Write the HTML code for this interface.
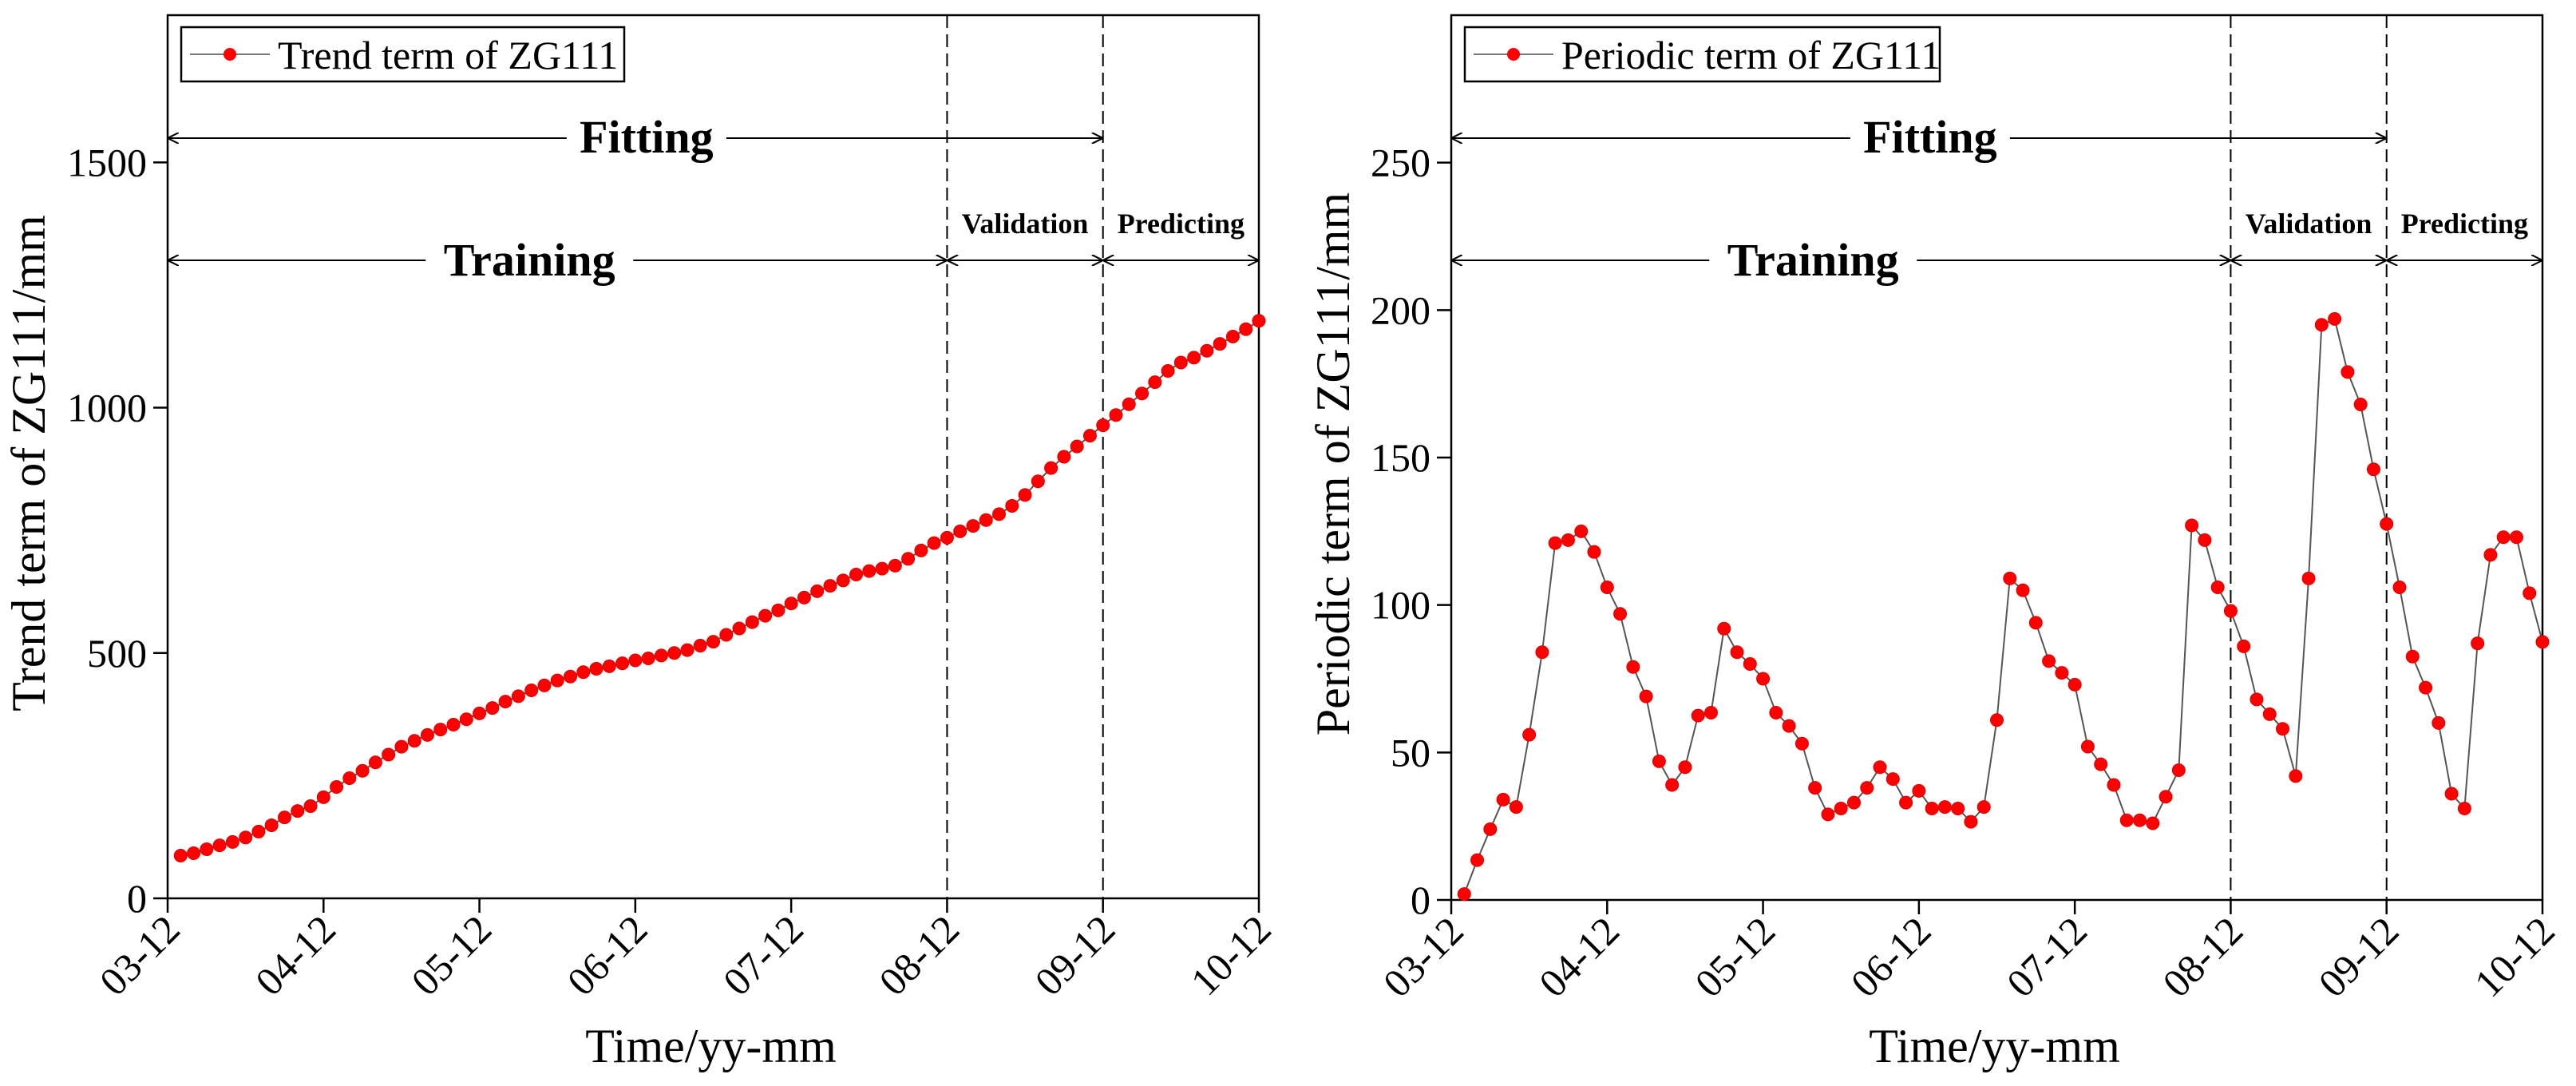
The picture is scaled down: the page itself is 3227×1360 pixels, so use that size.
<!DOCTYPE html>
<html><head><meta charset="utf-8"><style>
html,body{margin:0;padding:0;background:#fff;}
svg{display:block;font-family:"Liberation Serif",serif;}
</style></head><body>
<svg id="chart" width="3227" height="1360" viewBox="0 0 3227 1360" xmlns="http://www.w3.org/2000/svg">
<defs>
<marker id="ah" viewBox="0 0 10 10" refX="10" refY="5" markerWidth="14" markerHeight="14" markerUnits="userSpaceOnUse" orient="auto-start-reverse"><path d="M0,0 L10,5 L0,10" fill="none" stroke="#000" stroke-width="1.5"/></marker>
</defs>
</svg>
<script>
const xTickLabels = ["03-12","04-12","05-12","06-12","07-12","08-12","09-12","10-12"];
const trendValues = [87,92,100,108,115,124,136,149,165,178,188,206,227,245,260,277,293,309,321,333,344,354,365,377,388,401,412,424,434,444,452,461,468,473,479,485,489,495,500,506,515,523,537,550,563,576,587,601,613,626,637,648,660,667,672,678,692,709,724,735,748,759,771,783,800,822,850,877,900,921,943,964,985,1007,1029,1052,1075,1092,1102,1116,1130,1145,1160,1177];
const periodicValues = [2,13.5,24,34,31.5,56,84,121,122,125,118,106,97,79,69,47,39,45,62.5,63.5,92,84,80,75,63.5,59,53,38,29,31,33,38,45,41,33,37,31,31.5,31,26.5,31.5,61,109,105,94,81,77,73,52,46,39,27,27,26,35,44,127,122,106,98,86,68,63,58,42,109,195,197,179,168,146,127.5,106,82.5,72,60,36,31,87,117,123,123,104,87.5];
const trendYTicks = [0,500,1000,1500];
const periodicYTicks = [0,50,100,150,200,250];

const NS="http://www.w3.org/2000/svg";
const svg=document.getElementById('chart');
function mk(tag,attrs,parent){const e=document.createElementNS(NS,tag);for(const k in attrs)e.setAttribute(k,attrs[k]);(parent||svg).appendChild(e);return e;}

function panel(cfg){
  const g=mk('g',{});
  
  
  const L=cfg.x0,R=cfg.x1,T=19,B=cfg.yb;
  const months=84;
  const xs=m=>L+(R-L)*m/months;
  const ys=v=>B-(B-T)*v/cfg.ymax;
  const fr=mk('rect',{x:L,y:T,width:R-L,height:B-T,fill:'none',stroke:'#000','stroke-width':2.5},g);
  
  
  cfg.yticks.forEach(v=>{
    const y=ys(v);
    mk('line',{x1:L-18,x2:L,y1:y,y2:y,stroke:'#000','stroke-width':2.5},g);
    const t=mk('text',{x:L-26,y:y+17,'text-anchor':'end','font-size':50,fill:'#000'},g);
    t.textContent=v;
    
    
  });
  xTickLabels.forEach((lab,i)=>{
    const x=xs(i*12);
    mk('line',{x1:x,x2:x,y1:B,y2:B+18,stroke:'#000','stroke-width':2.5},g);
    const t=mk('text',{x:0,y:0,'text-anchor':'end','font-size':50,fill:'#000',transform:`translate(${x+18},${B+42}) rotate(-45)`},g);
    t.textContent=lab;
    
    
  });
  [60,72].forEach(m=>{
    const l=mk('line',{x1:xs(m),x2:xs(m),y1:T,y2:B,stroke:'#000','stroke-width':2,'stroke-dasharray':'16,8'},g);
    
    
  });
  function arrow(x1,x2,y,gap){
    if(gap){
      mk('line',{x1:x1,x2:gap[0],y1:y,y2:y,stroke:'#000','stroke-width':2,'marker-start':'url(#ah)'},g);
      mk('line',{x1:gap[1],x2:x2,y1:y,y2:y,stroke:'#000','stroke-width':2,'marker-end':'url(#ah)'},g);
    } else mk('line',{x1:x1,x2:x2,y1:y,y2:y,stroke:'#000','stroke-width':2,'marker-start':'url(#ah)','marker-end':'url(#ah)'},g);
  }
  function label(txt,x,y,size,name){
    const t=mk('text',{x:x,y:y,'text-anchor':'middle','font-size':size,'font-weight':'bold',fill:'#000'},g);
    t.textContent=txt;
    
    
  }
  const fx=(L+xs(72))/2+14;
  arrow(L,xs(72),173,[fx-100,fx+100]);
  label('Fitting',fx,191,58,'fitting-label');
  const tx=(L+xs(60))/2-35;
  arrow(L,xs(60),326,[tx-130,tx+130]);
  label('Training',tx,345,58,'training-label');
  arrow(xs(60),xs(72),326);
  label('Validation',(xs(60)+xs(72))/2,292,36,'validation-label');
  arrow(xs(72),R,326);
  label('Predicting',(xs(72)+R)/2,292,36,'predicting-label');
  const vals=cfg.values;
  const pts=vals.map((v,i)=>xs(i+1)+','+ys(v)).join(' ');
  const pl=mk('polyline',{points:pts,fill:'none',stroke:'#555','stroke-width':2},g);
  
  
  vals.forEach((v,i)=>{
    const c=mk('circle',{cx:xs(i+1),cy:ys(v),r:8,fill:'#ff0000',stroke:'#e00000','stroke-width':1},g);
    
    
  });
  const lg=mk('g',{},g);
  
  
  mk('rect',{x:L+17,y:34,width:cfg.legW,height:68,fill:'#fff',stroke:'#000','stroke-width':2.5},lg);
  mk('line',{x1:L+28,x2:L+128,y1:68,y2:68,stroke:'#777','stroke-width':2},lg);
  mk('circle',{cx:L+78,cy:68,r:8,fill:'#ff0000'},lg);
  const lt=mk('text',{x:L+138,y:86,'font-size':50,fill:'#000'},lg);
  lt.textContent=cfg.legend;
  
  
  const yt=mk('text',{x:0,y:0,'text-anchor':'middle','font-size':60,fill:'#000',transform:`translate(${cfg.ytx},${(T+B)/2+8}) rotate(-90)`},g);
  yt.textContent=cfg.ytitle;
  
  
  const xt=mk('text',{x:(L+R)/2-3,y:1330,'text-anchor':'middle','font-size':60,fill:'#000'},g);
  xt.textContent='Time/yy-mm';
  
  
}
panel({name:'trend-panel',x0:210,x1:1577,yb:1125,ymax:1800,yticks:trendYTicks,values:trendValues,legend:'Trend term of ZG111',legW:555,ytitle:'Trend term of ZG111/mm',ytx:56});
panel({name:'periodic-panel',x0:1818,x1:3185,yb:1127,ymax:300,yticks:periodicYTicks,values:periodicValues,legend:'Periodic term of ZG111',legW:595,ytitle:'Periodic term of ZG111/mm',ytx:1690});
</script>
</body></html>
